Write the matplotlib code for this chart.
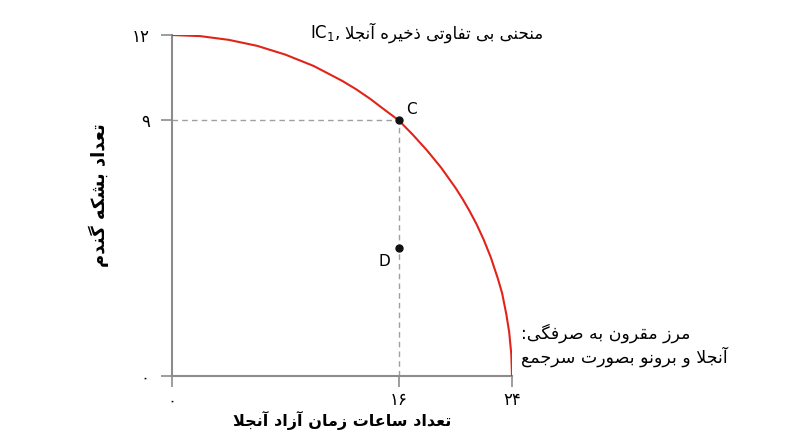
import numpy as np
import matplotlib
matplotlib.use('Agg')
import matplotlib.pyplot as plt

# frontier (hours of free time, bushels of wheat)
free_hours = [0, 2, 4, 6, 8, 10, 12, 13, 14, 15, 16, 17, 18, 19, 20, 20.5, 21, 21.5, 22,
              22.5, 23, 23.3, 23.6, 23.8, 23.95, 24]
wheat = [12, 11.96, 11.83, 11.62, 11.31, 10.91, 10.39, 10.09, 9.75, 9.37, 9.0, 8.49,
         7.94, 7.33, 6.63, 6.24, 5.81, 5.34, 4.8, 4.18, 3.43, 2.92, 2.17, 1.55, 0.77, 0]

point_names = ['C', 'D']
point_x = [16, 16]
point_y = [9, 4.5]

xticks = [0, 16, 24]
yticks = [0, 9, 12]
xtick_labels = ['۰', '۱۶', '۲۴']
ytick_labels = ['۰', '۹', '۱۲']

title_fa = 'منحنی بی تفاوتی ذخیره آنجلا'
title_latin = 'IC$_1$,'
xlabel_fa = 'تعداد ساعات زمان آزاد آنجلا'
ylabel_fa = 'تعداد بشکه گندم'
note_fa = ['مرز مقرون به صرفگی:', 'آنجلا و برونو بصورت سرجمع']

# minimal arabic shaping (no arabic_reshaper available)
FORMS = {
    'ا': ('\uFE8D', '\uFE8E'), 'آ': ('\uFE81', '\uFE82'), 'د': ('\uFEA9', '\uFEAA'),
    'ذ': ('\uFEAB', '\uFEAC'), 'ر': ('\uFEAD', '\uFEAE'), 'ز': ('\uFEAF', '\uFEB0'),
    'و': ('\uFEED', '\uFEEE'),
    'ب': ('\uFE8F', '\uFE90', '\uFE91', '\uFE92'), 'ت': ('\uFE95', '\uFE96', '\uFE97', '\uFE98'),
    'ج': ('\uFE9D', '\uFE9E', '\uFE9F', '\uFEA0'), 'ح': ('\uFEA1', '\uFEA2', '\uFEA3', '\uFEA4'),
    'خ': ('\uFEA5', '\uFEA6', '\uFEA7', '\uFEA8'), 'س': ('\uFEB1', '\uFEB2', '\uFEB3', '\uFEB4'),
    'ش': ('\uFEB5', '\uFEB6', '\uFEB7', '\uFEB8'), 'ص': ('\uFEB9', '\uFEBA', '\uFEBB', '\uFEBC'),
    'ع': ('\uFEC9', '\uFECA', '\uFECB', '\uFECC'), 'ف': ('\uFED1', '\uFED2', '\uFED3', '\uFED4'),
    'ق': ('\uFED5', '\uFED6', '\uFED7', '\uFED8'), 'ل': ('\uFEDD', '\uFEDE', '\uFEDF', '\uFEE0'),
    'م': ('\uFEE1', '\uFEE2', '\uFEE3', '\uFEE4'), 'ن': ('\uFEE5', '\uFEE6', '\uFEE7', '\uFEE8'),
    'ه': ('\uFEE9', '\uFEEA', '\uFEEB', '\uFEEC'), 'ک': ('\uFB8E', '\uFB8F', '\uFB90', '\uFB91'),
    'گ': ('\uFB92', '\uFB93', '\uFB94', '\uFB95'), 'ی': ('\uFBFC', '\uFBFD', '\uFBFE', '\uFBFF'),
}


def dual(c):
    return c in FORMS and len(FORMS[c]) == 4


def fa(text):
    out = []
    i = 0
    while i < len(text):
        c = text[i]
        if c not in FORMS:
            out.append(c)
            i += 1
            continue
        prev = i > 0 and dual(text[i - 1])
        if c == 'ل' and i + 1 < len(text) and text[i + 1] in 'اآ':
            lig = ('\uFEFB', '\uFEFC') if text[i + 1] == 'ا' else ('\uFEF5', '\uFEF6')
            out.append(lig[1] if prev else lig[0])
            i += 2
            continue
        f = FORMS[c]
        nxt = dual(c) and i + 1 < len(text) and text[i + 1] in FORMS
        if len(f) == 2:
            out.append(f[1] if prev else f[0])
        else:
            out.append([[f[0], f[2]], [f[1], f[3]]][prev][nxt])
        i += 1
    return ''.join(reversed(out))


plt.rcParams['font.family'] = ['DejaVu Sans']
grey = '#8c8c8c'
red = '#e2231a'

fig = plt.figure(figsize=(8.1, 4.36), dpi=100)
ax = fig.add_axes([172 / 810, 60 / 436, 340 / 810, 341 / 436])

ax.plot(free_hours, wheat, color=red, lw=1.5, zorder=3)
ax.plot([0, point_x[0]], [point_y[0], point_y[0]], ls=(0, (4, 3)), color='#a0a0a0', lw=1)
ax.plot([point_x[0], point_x[0]], [0, point_y[0]], ls=(0, (4, 3)), color='#a0a0a0', lw=1)
ax.plot(point_x, point_y, 'o', color='#111111', ms=5, zorder=4)
ax.text(point_x[0] + 0.55, point_y[0] + 0.1, point_names[0], fontsize=11, va='bottom', ha='left')
ax.text(point_x[1] - 0.6, point_y[1] - 0.2, point_names[1], fontsize=11, va='top', ha='right')

ax.set_xlim(0, 24)
ax.set_ylim(0, 12)
ax.set_xticks(xticks)
ax.set_xticklabels(xtick_labels)
ax.set_yticks(yticks)
ax.set_yticklabels(ytick_labels)
for s in ['top', 'right']:
    ax.spines[s].set_visible(False)
for s in ['left', 'bottom']:
    ax.spines[s].set_color(grey)
    ax.spines[s].set_linewidth(1.5)
ax.tick_params(length=8, width=1.2, color=grey, labelsize=12)
ax.tick_params(axis='x', pad=3)
ax.tick_params(axis='y', pad=8)

ax.set_xlabel(fa(xlabel_fa), fontsize=11.5, fontweight='bold', labelpad=1)
ax.set_ylabel(fa(ylabel_fa), fontsize=13, fontweight='bold')
ax.yaxis.set_label_coords(-0.185, 0.53)

t = fig.text(543 / 810, 1 - 33 / 436, fa(title_fa), fontsize=12, ha='right', va='center')
fig.canvas.draw()
bb = t.get_window_extent().transformed(fig.transFigure.inverted())
fig.text(bb.x0 - 5 / 810, 1 - 33 / 436, title_latin, fontsize=12, ha='right', va='center')

fig.text(521 / 810, 1 - 333 / 436, fa(note_fa[0]), fontsize=12.5, ha='left', va='center')
fig.text(521 / 810, 1 - 357 / 436, fa(note_fa[1]), fontsize=12.5, ha='left', va='center')

fig.savefig('out.png', dpi=100)
